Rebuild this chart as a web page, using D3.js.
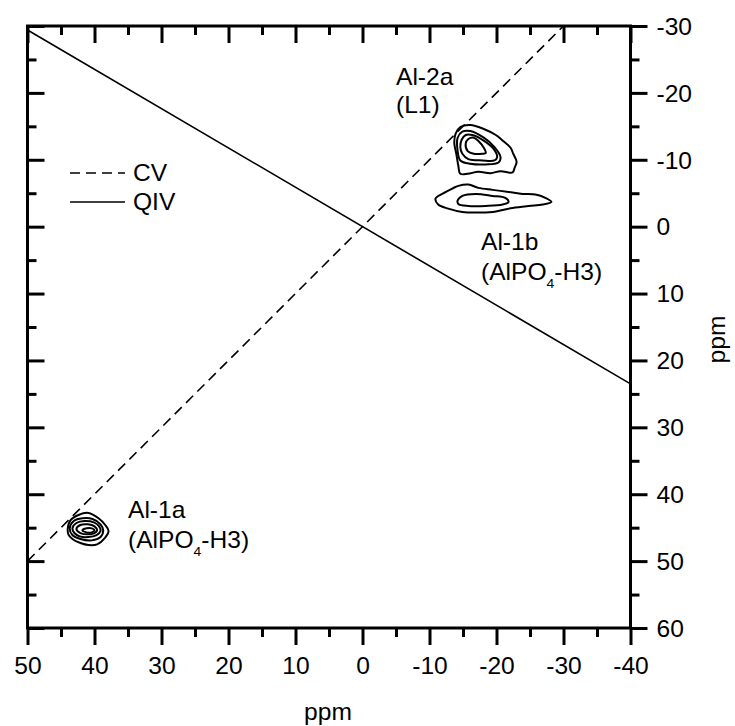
<!DOCTYPE html>
<html>
<head>
<meta charset="utf-8">
<script src="https://cdn.jsdelivr.net/npm/d3@7"></script>
<style>
  body { margin: 0; background: #fff; }
  svg { display: block; font-family: "Liberation Sans", Arial, sans-serif; }
</style>
</head>
<body>
<div id="chart"></div>
<script>
// axis ticks (ppm)
const xMajor = [50, 40, 30, 20, 10, 0, -10, -20, -30, -40];
const xMinor = [45, 35, 25, 15, 5, -5, -15, -25, -35];
const yMajor = [-30, -20, -10, 0, 10, 20, 30, 40, 50, 60];
const yMinor = [-25, -15, -5, 5, 15, 25, 35, 45, 55];

// reference lines [F2, F1]
const cvLine = [[50, 50], [-30, -30]];
const qivLine = [[50, -29.4], [-40, 23.5]];

// contour rings [F2 ppm, F1 ppm]
const al2aRings = [
  [[-13.9,-13.9],[-14.6,-14.9],[-16.1,-15.2],[-18.1,-14.6],[-19.9,-13.7],[-21.0,-12.8],[-22.1,-11.8],[-22.5,-10.9],[-23.0,-9.7],[-22.7,-8.8],[-22.4,-8.1],[-20.6,-8.3],[-19.1,-8.0],[-17.3,-8.2],[-15.7,-7.9],[-14.6,-7.9],[-14.3,-9.1],[-14.0,-10.9],[-13.7,-12.5]],
  [[-14.2,-13.3],[-14.9,-14.2],[-16.1,-14.3],[-18.1,-13.3],[-19.7,-11.9],[-20.6,-10.4],[-20.3,-9.6],[-18.4,-9.3],[-16.1,-9.4],[-14.6,-9.9],[-14.2,-11.3]],
  [[-14.8,-13.0],[-15.4,-13.7],[-16.4,-13.7],[-18.2,-12.8],[-19.6,-11.6],[-20.1,-10.4],[-19.7,-9.9],[-17.9,-9.9],[-15.8,-10.1],[-14.9,-10.9],[-14.6,-11.9]],
  [[-15.4,-12.4],[-15.8,-13.1],[-16.6,-13.3],[-17.3,-12.8],[-18.1,-11.8],[-18.4,-11.0],[-17.9,-10.9],[-16.6,-10.9],[-15.7,-11.3]]
];
const al1bRings = [
  [[-10.9,-4.2],[-11.9,-4.9],[-13.4,-5.7],[-14.3,-6.1],[-15.8,-6.3],[-17.3,-5.8],[-19.4,-5.5],[-21.8,-5.2],[-23.9,-4.9],[-25.8,-4.8],[-27.3,-4.3],[-28.2,-3.7],[-26.9,-3.3],[-24.8,-3.1],[-22.4,-2.8],[-19.4,-2.2],[-16.9,-2.1],[-14.9,-2.2],[-12.8,-2.7],[-11.3,-3.3]],
  [[-14.2,-3.9],[-14.9,-4.6],[-16.9,-4.9],[-19.4,-4.6],[-21.3,-4.3],[-21.8,-3.7],[-20.9,-3.3],[-18.4,-3.1],[-15.8,-3.1],[-14.3,-3.4]]
];
const al1aRings = [
  [[44.0,45.2],[43.6,43.9],[42.4,43.1],[40.9,42.8],[39.4,43.6],[38.4,44.6],[37.9,45.5],[38.5,46.6],[39.6,47.5],[40.9,47.6],[42.1,47.3],[43.3,46.7],[43.9,46.0]],
  [[43.7,45.1],[43.1,44.0],[41.8,43.6],[40.3,43.7],[39.1,44.5],[38.7,45.4],[39.1,46.4],[40.4,46.9],[42.1,46.7],[43.3,46.1]],
  [[43.3,45.1],[42.7,44.3],[41.5,44.0],[40.1,44.2],[39.3,44.8],[39.1,45.5],[39.7,46.1],[40.9,46.4],[42.2,46.3],[43.0,45.8]],
  [[42.7,45.2],[42.1,44.6],[41.0,44.5],[40.0,44.8],[39.6,45.4],[40.0,45.8],[41.0,46.0],[42.1,45.8]],
  [[41.8,45.4],[41.2,45.1],[40.4,45.1],[40.0,45.4],[40.4,45.7],[41.2,45.7]]
];

const width = 735, height = 726;
const FS = 23, SX = 1.07; // glyphs in the figure are a bit wide

const svg = d3.select("#chart").append("svg")
  .attr("width", width)
  .attr("height", height);

const x = d3.scaleLinear().domain([50, -40]).range([27.5, 630.5]);
const y = d3.scaleLinear().domain([-30, 60]).range([26, 628]);

const line = d3.line().x(d => x(d[0])).y(d => y(d[1]));
const ring = d3.line().x(d => x(d[0])).y(d => y(d[1])).curve(d3.curveCatmullRomClosed);

// reference lines
svg.append("path").datum(cvLine)
  .attr("d", line).attr("fill", "none").attr("stroke", "#000")
  .attr("stroke-width", 1.6).attr("stroke-dasharray", "10,6");
svg.append("path").datum(qivLine)
  .attr("d", line).attr("fill", "none").attr("stroke", "#000")
  .attr("stroke-width", 1.6);

// contours
[al2aRings, al1bRings, al1aRings].forEach(rings => {
  svg.append("g").selectAll("path")
    .data(rings)
    .enter()
    .append("path")
    .attr("d", ring)
    .attr("fill", "none")
    .attr("stroke", "#000")
    .attr("stroke-width", 2);
});

// axes: bottom + right labelled, top + left ticks inward
function drawAxis(axis, transform, showLabels) {
  const g = svg.append("g").attr("transform", transform);
  g.call(axis);
  g.select(".domain").remove();
  g.selectAll(".tick line").attr("stroke", "#000").attr("stroke-width", 3);
  if (!showLabels) g.selectAll(".tick text").remove();
  return g;
}

const fmt = d => String(d); // plain hyphen minus, as in the figure

const bottom = drawAxis(d3.axisBottom(x).tickValues(xMajor).tickSize(17).tickFormat(fmt),
  "translate(0,628)", true);
drawAxis(d3.axisBottom(x).tickValues(xMinor).tickSize(9).tickFormat(""), "translate(0,628)", false);
drawAxis(d3.axisTop(x).tickValues(xMajor).tickSize(-17), "translate(0,26)", false);
drawAxis(d3.axisTop(x).tickValues(xMinor).tickSize(-9), "translate(0,26)", false);
drawAxis(d3.axisLeft(y).tickValues(yMajor).tickSize(-17), "translate(27.5,0)", false);
drawAxis(d3.axisLeft(y).tickValues(yMinor).tickSize(-9), "translate(27.5,0)", false);
const right = drawAxis(d3.axisRight(y).tickValues(yMajor).tickSize(17).tickFormat(fmt),
  "translate(630.5,0)", true);
drawAxis(d3.axisRight(y).tickValues(yMinor).tickSize(9).tickFormat(""), "translate(630.5,0)", false);

bottom.selectAll(".tick text")
  .attr("font-size", FS).attr("font-family", null).attr("fill", "#000")
  .attr("y", 46).attr("dy", null)
  .attr("transform", `scale(${SX},1)`);
right.selectAll(".tick text")
  .attr("font-size", FS).attr("font-family", null).attr("fill", "#000")
  .attr("x", 26 / SX).attr("dy", "0.36em")
  .attr("transform", `scale(${SX},1)`);

// frame
svg.append("rect")
  .attr("x", x(50)).attr("y", y(-30))
  .attr("width", x(-40) - x(50)).attr("height", y(60) - y(-30))
  .attr("fill", "none").attr("stroke", "#000").attr("stroke-width", 3);

// text helper
function addText(px, py, str, anchor) {
  return svg.append("text")
    .attr("transform", `translate(${px},${py}) scale(${SX},1)`)
    .attr("font-size", FS)
    .attr("text-anchor", anchor || "start")
    .attr("fill", "#000")
    .text(str);
}
function addSubLabel(px, py) {
  const t = svg.append("text")
    .attr("transform", `translate(${px},${py}) scale(${SX},1)`)
    .attr("font-size", FS).attr("fill", "#000");
  t.append("tspan").text("(AlPO");
  t.append("tspan").attr("font-size", 13).attr("dy", 8).text("4");
  t.append("tspan").attr("dy", -8).text("-H3)");
}

addText(396, 85, "Al-2a");
addText(396, 113, "(L1)");
addText(481, 250, "Al-1b");
addSubLabel(481, 280);
addText(128, 518, "Al-1a");
addSubLabel(128, 548);

// legend
svg.append("line").attr("x1", 70).attr("x2", 125).attr("y1", 173).attr("y2", 173)
  .attr("stroke", "#000").attr("stroke-width", 1.6).attr("stroke-dasharray", "10,6");
svg.append("line").attr("x1", 70).attr("x2", 125).attr("y1", 202).attr("y2", 202)
  .attr("stroke", "#000").attr("stroke-width", 1.6);
addText(133, 181, "CV");
addText(133, 210, "QIV");

// axis titles
addText(328, 720, "ppm", "middle");
svg.append("text")
  .attr("transform", `translate(725,339.5) rotate(-90) scale(${SX},1)`)
  .attr("font-size", FS).attr("text-anchor", "middle").attr("fill", "#000")
  .text("ppm");
</script>
</body>
</html>
